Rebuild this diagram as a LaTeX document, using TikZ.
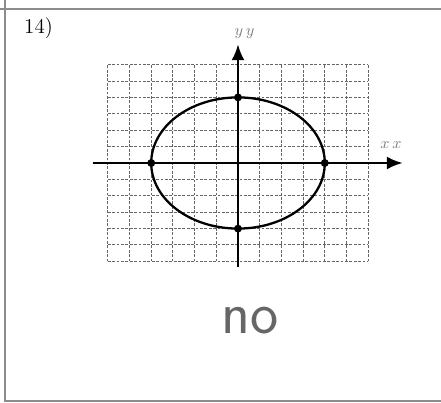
\documentclass[tikz,border=0pt]{standalone}
\usetikzlibrary{arrows.meta,positioning}
\begin{document}
\begin{tikzpicture}[
    x=0.02cm, y=0.02cm,
    frame/.style={draw=black!45, line width=0.8pt},
    gridline/.style={draw=black!60, dash pattern=on 1.6pt off 0.9pt, line width=0.55pt},
    axis/.style={-{Latex[length=3.2mm,width=2.6mm]}, line width=1.6pt},
    curve/.style={line width=1.3pt},
    pt/.style={circle, fill=black, inner sep=0pt, minimum size=4.5pt},
    lbl/.style={font=\small, text=black!50, inner sep=0pt}
]
  \useasboundingbox (0,0) rectangle (441,403);
  % sheet border
  \draw[frame] (0,394) -- (441,394);
  \draw[frame] (5,403) -- (5,2) -- (441,2);
  \node[anchor=north west, font=\large] (num) at (18,392) {14)};

  % graph, one unit per grid square
  \begin{scope}[shift={(238,240)}, x=0.434cm, y=0.328cm]
    \foreach \k in {-6,...,6} {
      \draw[gridline] (\k,-6) -- (\k,6);
      \draw[gridline] (-6,\k) -- (6,\k);
    }
    \coordinate (xl) at (-6.7,0);
    \coordinate (xr) at (7.6,0);
    \coordinate (yb) at (0,-6.35);
    \coordinate (yt) at (0,7.25);
    \draw[axis] (xl) -- (xr);
    \draw[axis] (yb) -- (yt);
    \node[lbl] (xlab) at (7.05,1.1) {$x\,x$};
    \node[lbl] (ylab) at (0.3,7.9) {$y\,y$};
    \draw[curve] (0,0) ellipse [x radius=4, y radius=4];
    \node[pt] (right) at (4,0) {};
    \node[pt] (left) at (-4,0) {};
    \node[pt] (top) at (0,4) {};
    \node[pt] (bottom) at (0,-4) {};
  \end{scope}

  \node[font=\fontsize{34}{34}\selectfont\sffamily, text=black!60] (answer) at (250,82) {no};
\end{tikzpicture}
\end{document}
